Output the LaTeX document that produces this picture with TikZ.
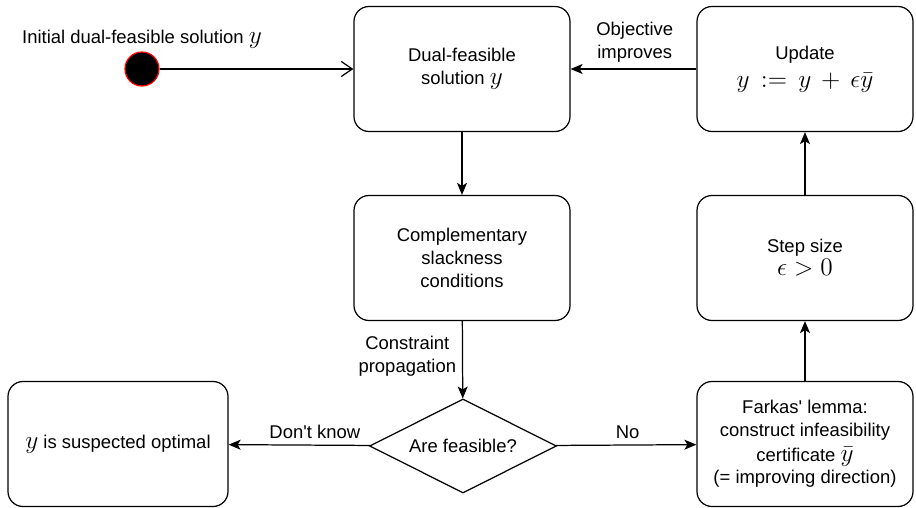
\documentclass[tikz,border=0pt]{standalone}
\usepackage{amsmath, amssymb}
\usepackage{fontspec}
\setmainfont{Liberation Sans}
\usetikzlibrary{arrows.meta, positioning, shapes.geometric}

% math in the boxes is set a little larger than the text
\newcommand{\bigmath}[1]{{\fontsize{13.5}{14}\selectfont$#1$}}

\begin{document}
\begin{tikzpicture}[
    font=\fontsize{10.5}{13}\selectfont,
    box/.style={draw, line width=0.7pt, rounded corners=0.3cm, align=center,
                minimum width=4.32cm, minimum height=2.5cm},
    decision/.style={draw, line width=0.7pt, diamond, aspect=2, inner sep=0pt,
                minimum width=3.74cm, minimum height=1.88cm},
    flow/.style={line width=0.7pt, -{Stealth[length=0.24cm, width=0.2cm, inset=0.06cm]}},
    startflow/.style={line width=0.7pt, -{Straight Barb[length=0.22cm, width=0.3cm]}}
]
    \useasboundingbox (0,0) rectangle (18.32,10.16);

    % Start
    \node[circle, draw=red, fill=black, line width=0.7pt, minimum size=0.68cm, inner sep=0pt] (start) at (2.84,8.78) {};
    \node (startlabel) at (2.84,9.38) {Initial dual-feasible solution \bigmath{y}};

    % Main column
    \node[box] (dual) at (9.24,8.78) {Dual-feasible\\solution \bigmath{y}};
    \node[box] (comp) at (9.24,5.0) {Complementary\\slackness\\conditions};
    \node[decision] (feas) at (9.26,1.24) {Are feasible?};

    % Left outcome
    \node[box, minimum width=4.4cm] (opt) at (2.36,1.28) {\bigmath{y} is suspected optimal};

    % Improvement loop
    \node[box] (farkas) at (16.1,1.28) {Farkas\textquotesingle{} lemma:\\construct infeasibility\\[1pt]certificate \bigmath{\bar{y}}\\[0pt](= improving direction)};
    \node[box] (stepsize) at (16.1,5.0) {Step size\\\bigmath{\epsilon > 0}};
    \node[box] (update) at (16.1,8.78) {Update\\[3pt]\bigmath{y \,:=\, y \,+\, \epsilon\bar{y}}};

    % Connectors
    \draw[startflow] (start) -- (dual);
    \draw[flow] (dual) -- (comp);
    \draw[flow] (comp) -- node[left, align=center, pos=0.45] {Constraint\\propagation} (feas);
    \draw[flow] (feas) -- node[above, pos=0.39] {Don\textquotesingle t know} (opt);
    \draw[flow] (feas) -- node[above, pos=0.51] {No} (farkas);
    \draw[flow] (farkas) -- (stepsize);
    \draw[flow] (stepsize) -- (update);
    \draw[flow] (update) -- node[above, align=center, pos=0.49] {Objective\\improves} (dual);
\end{tikzpicture}
\end{document}
